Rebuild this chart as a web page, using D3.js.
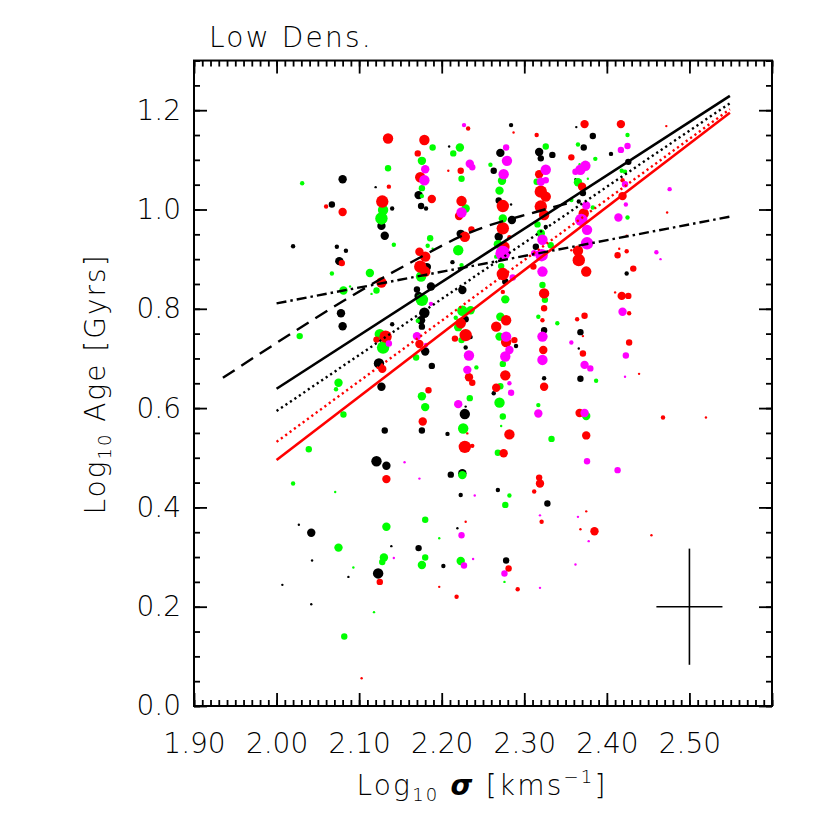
<!DOCTYPE html>
<html><head><meta charset="utf-8">
<script src="https://cdn.jsdelivr.net/npm/d3@7"></script>
<style>body{margin:0;background:#fff}</style>
</head><body><svg id="c" width="830" height="830"></svg>
<script>
// ---- tick labels ----
const xMajor=[1.9,2.0,2.1,2.2,2.3,2.4,2.5,2.6];
const xTickLabels=["1.90","2.00","2.10","2.20","2.30","2.40","2.50",""];
const yMajor=[0,0.2,0.4,0.6,0.8,1.0,1.2];
const yTickLabels=["0.0","0.2","0.4","0.6","0.8","1.0","1.2"];

// ---- galaxies: [log sigma, log age, size class] ----
const blackPts=[[2.080,1.061,4],[2.120,1.045,1],[2.067,1.010,3],[2.140,1.002,2],[2.127,0.967,4],[2.131,0.947,4],[2.020,0.926,2],[2.073,0.925,2],[2.084,0.917,2],[2.076,0.896,4],[2.078,0.791,4],[2.080,0.765,4],[2.140,0.769,2],[2.124,0.690,5],[2.127,0.643,4],
[2.172,1.029,4],[2.175,1.007,3],[2.181,1.002,2],[2.182,0.884,4],[2.187,0.845,4],[2.170,0.839,3],[2.172,0.826,4],[2.179,0.792,5],[2.175,0.777,4],[2.176,0.764,3],[2.180,0.714,4],[2.188,0.685,3],
[2.209,1.127,1],[2.223,0.951,4],[2.213,0.894,2],[2.225,0.838,4],[2.229,0.779,3],[2.235,0.743,2],[2.229,0.722,2],
[2.284,1.170,2],[2.271,1.114,4],[2.263,1.078,3],[2.269,1.018,3],[2.284,1.010,1],[2.285,0.979,4],[2.269,0.945,4],[2.277,0.855,3],[2.290,0.725,2],[2.263,0.630,2],
[2.318,1.116,4],[2.320,1.103,3],[2.326,0.965,2],[2.314,0.925,3],[2.324,0.757,3],[2.324,0.660,2],
[2.334,1.110,3],[2.363,1.166,1],[2.383,1.148,3],[2.372,1.125,3],[2.362,1.061,1],[2.371,1.033,3],[2.366,1.016,2],[2.368,0.753,3],[2.366,0.720,1],[2.368,0.659,3],[2.405,1.112,2],[2.426,1.096,3],[2.424,0.871,2],
[2.131,0.555,3],[2.121,0.493,5],[2.133,0.484,4],[2.027,0.365,1],[2.042,0.349,4],[2.043,0.293,1],[2.087,0.260,1],[2.139,0.322,1],[2.123,0.267,5],[2.007,0.244,1],[2.042,0.205,1],
[2.176,0.555,3],[2.207,0.548,2],[2.229,0.603,1],[2.228,0.588,5],[2.211,0.466,3],[2.225,0.469,4],[2.223,0.425,2],[2.219,0.358,1],[2.172,0.318,3],[2.202,0.282,2],[2.268,0.435,2],[2.278,0.293,3],[2.328,0.408,3]];

const greenPts=[[2.135,1.083,3],[2.031,1.053,2],[2.129,0.999,5],[2.127,0.982,6],[2.142,0.929,2],[2.067,0.871,2],[2.113,0.872,4],[2.089,0.845,1],[2.081,0.837,4],[2.121,0.837,3],[2.115,0.830,1],[2.028,0.745,3],[2.125,0.749,5],[2.129,0.722,6],[2.075,0.651,4],[2.072,0.638,2],
[2.189,1.125,3],[2.176,1.098,4],[2.176,1.043,3],[2.176,1.027,2],[2.186,0.942,3],[2.183,0.927,2],[2.189,0.921,1],[2.175,0.865,5],[2.176,0.818,6],[2.171,0.776,2],[2.169,0.702,3],[2.176,0.624,4],
[2.222,1.125,4],[2.214,1.113,3],[2.224,1.062,3],[2.229,1.002,4],[2.220,0.918,5],[2.224,0.888,2],[2.225,0.796,5],[2.235,0.797,4],[2.217,0.782,2],[2.220,0.763,4],[2.224,0.737,3],[2.242,0.682,2],[2.234,0.620,3],
[2.259,1.090,2],[2.273,1.058,4],[2.270,1.038,4],[2.274,0.982,4],[2.268,0.930,4],[2.266,0.905,2],[2.272,0.886,3],[2.277,0.819,4],[2.271,0.784,4],[2.270,0.744,4],[2.274,0.689,3],[2.271,0.644,3],
[2.326,1.127,3],[2.315,1.056,3],[2.316,0.970,3],[2.320,0.952,4],[2.322,0.848,3],[2.325,0.818,3],[2.317,0.784,2],
[2.332,0.928,3],[2.340,0.771,2],[2.365,1.131,2],[2.386,1.102,2],[2.367,1.091,1],[2.365,1.055,4],[2.377,1.062,1],[2.357,1.019,2],[2.383,1.004,2],[2.387,0.655,2],[2.425,1.150,2],[2.418,1.078,2],[2.422,1.076,2],[2.425,0.984,2],
[2.081,0.587,3],[2.039,0.517,3],[2.020,0.448,2],[2.071,0.431,1],[2.075,0.319,4],[2.093,0.279,1],[2.133,0.361,4],[2.130,0.299,4],[2.128,0.290,3],[2.118,0.189,1],[2.082,0.140,3],
[2.180,0.602,4],[2.226,0.559,5],[2.225,0.465,4],[2.180,0.375,3],[2.197,0.338,1],[2.180,0.299,3],[2.176,0.284,4],[2.223,0.292,4],[2.270,0.611,5],[2.274,0.583,3],[2.272,0.564,1],[2.268,0.510,3],[2.282,0.424,2],[2.277,0.405,3],[2.276,0.250,1],[2.317,0.606,2],
[2.375,0.584,4],[2.333,0.538,3]];

const redPts=[[2.135,1.143,5],[2.136,1.046,2],[2.060,1.006,2],[2.128,1.016,6],[2.080,0.995,4],[2.079,0.892,3],[2.127,0.853,5],[2.132,0.744,6],[2.121,0.738,3],[2.128,0.679,4],
[2.179,1.140,5],[2.171,1.113,3],[2.174,1.065,5],[2.188,1.021,4],[2.173,0.915,4],[2.180,0.905,5],[2.174,0.885,6],[2.180,0.875,5],[2.173,0.729,4],[2.184,0.636,3],
[2.232,1.163,2],[2.208,1.078,1],[2.223,1.078,3],[2.224,1.017,5],[2.221,0.987,4],[2.236,0.960,3],[2.228,0.945,5],[2.223,0.771,5],[2.229,0.747,6],[2.216,0.740,3],[2.233,0.662,4],[2.237,0.651,3],
[2.287,1.155,1],[2.274,1.007,6],[2.274,0.962,6],[2.282,0.944,2],[2.276,0.925,5],[2.274,0.870,6],[2.274,0.834,2],[2.278,0.777,5],[2.266,0.764,5],[2.278,0.733,5],[2.288,0.737,3],[2.277,0.666,5],[2.266,0.641,4],
[2.315,1.150,2],[2.318,1.071,4],[2.320,1.036,6],[2.326,1.026,5],[2.320,1.006,6],[2.324,0.989,5],[2.311,0.885,3],[2.324,0.831,5],[2.324,0.801,3],[2.322,0.777,2],[2.323,0.717,4],[2.324,0.643,4],
[2.373,1.172,4],[2.357,1.105,3],[2.370,1.046,4],[2.372,0.992,5],[2.365,0.917,5],[2.366,0.898,6],[2.375,0.875,5],[2.357,0.918,1],[2.364,0.779,2],[2.373,0.786,3],[2.371,0.745,1],[2.371,0.710,3],
[2.417,1.172,4],[2.419,1.059,2],[2.419,1.027,4],[2.424,0.947,1],[2.415,0.921,1],[2.424,0.916,2],[2.413,0.908,3],[2.432,0.881,3],[2.410,0.833,1],[2.418,0.826,4],[2.426,0.826,3],[2.427,0.791,2],[2.427,0.732,3],[2.439,0.669,1],[2.472,1.168,1],[2.473,0.994,1],
[2.133,0.457,4],[2.125,0.250,3],[2.103,0.056,1],
[2.177,0.573,4],[2.231,0.549,1],[2.228,0.522,6],[2.237,0.524,2],[2.229,0.371,1],[2.197,0.240,1],[2.218,0.220,2],[2.282,0.547,5],[2.275,0.509,4],[2.281,0.277,3],[2.292,0.235,2],[2.318,0.460,3],[2.319,0.448,4],[2.312,0.432,2],[2.321,0.371,2],
[2.367,0.590,4],[2.375,0.545,4],[2.375,0.392,1],[2.368,0.356,1],[2.385,0.352,4],[2.468,0.581,2],[2.520,0.581,1],[2.454,0.344,1]];

const magentaPts=[[2.136,0.730,3],
[2.180,1.081,4],[2.179,1.059,5],[2.187,0.810,2],[2.170,0.745,4],[2.181,0.727,2],
[2.227,1.170,2],[2.234,1.092,4],[2.237,1.085,3],[2.224,0.994,5],[2.233,0.706,5],[2.231,0.677,4],
[2.278,1.125,3],[2.279,1.098,5],[2.275,1.071,5],[2.274,0.912,7],[2.286,0.863,3],[2.278,0.744,5],[2.282,0.717,4],[2.277,0.704,5],[2.282,0.650,2],[2.284,0.631,3],
[2.326,1.080,5],[2.320,1.056,4],[2.326,1.059,3],[2.322,0.939,5],[2.321,0.908,6],[2.312,0.912,3],[2.322,0.875,5],[2.322,0.744,5],[2.322,0.697,5],
[2.374,1.088,5],[2.368,1.080,5],[2.362,1.076,3],[2.375,1.008,4],[2.369,0.979,6],[2.376,0.959,5],[2.376,0.932,6],[2.357,0.732,2],[2.373,0.687,4],[2.380,0.680,3],
[2.417,1.120,3],[2.425,1.128,3],[2.422,1.051,3],[2.423,1.010,2],[2.414,0.984,4],[2.419,0.794,4],[2.423,0.706,3],[2.422,0.663,1],[2.476,1.041,2],[2.460,0.914,2],[2.465,0.900,1],
[2.155,0.491,1],[2.142,0.298,1],
[2.220,0.608,4],[2.173,0.458,1],[2.240,0.424,1],[2.224,0.344,3],[2.227,0.283,3],[2.238,0.296,1],[2.276,0.267,3],[2.317,0.589,4],[2.319,0.384,1],[2.319,0.238,1],
[2.373,0.590,4],[2.376,0.493,3],[2.413,0.475,3],[2.365,0.381,1],[2.378,0.332,1],[2.362,0.285,1]];

// ---- fitted relations ----
const fitSolidBlack=[[2.000,0.639],[2.549,1.229]];
const fitDotBlack=[[2.000,0.594],[2.549,1.214]];
const fitDotRed=[[2.000,0.532],[2.549,1.202]];
const fitSolidRed=[[2.000,0.4955],[2.549,1.195]];
const fitDashBlack=[[1.935,0.661],[2.161,0.892],[2.233,0.953],[2.314,0.995],[2.358,1.015]];
const fitDashDot=[[2.000,0.811],[2.549,0.9855]];
const errCross={x:2.50,y:0.20,ex:0.04,ey:0.117};

// ---- drawing ----
const FONT='"DejaVu Sans", sans-serif';
const svg=d3.select("#c");
const x=d3.scaleLinear().domain([1.9,2.6]).range([194,772]);
const y=d3.scaleLinear().domain([0,1.3]).range([706,60.55]);
const r=d3.scaleLinear().domain([1,2,3,4,5,6,7]).range([1.2,2.2,3.2,4.2,5.2,6.2,7.4]);

const groups=[{pts:blackPts,c:"#000000"},{pts:greenPts,c:"#00ff00"},{pts:redPts,c:"#ff0000"},{pts:magentaPts,c:"#ff00ff"}];
groups.forEach(gp=>{
  svg.append("g").selectAll("circle").data(gp.pts).join("circle")
    .attr("cx",d=>x(d[0])).attr("cy",d=>y(d[1])).attr("r",d=>r(d[2])).attr("fill",gp.c);
});

const line=d3.line().x(d=>x(d[0])).y(d=>y(d[1]));
const lineC=d3.line().x(d=>x(d[0])).y(d=>y(d[1])).curve(d3.curveMonotoneX);
const lines=[
 {d:fitSolidBlack,c:"#000",w:2.6,da:null,f:line},
 {d:fitDotBlack,c:"#000",w:2.4,da:"2.2,3.2",f:line},
 {d:fitDotRed,c:"#ff0000",w:2.4,da:"2.2,3.2",f:line},
 {d:fitSolidRed,c:"#ff0000",w:2.6,da:null,f:line},
 {d:fitDashBlack,c:"#000",w:2.4,da:"14,8",f:lineC},
 {d:fitDashDot,c:"#000",w:2.4,da:"10,4,2.5,4",f:line}
];
lines.forEach(l=>{
  svg.append("path").attr("d",l.f(l.d)).attr("fill","none").attr("stroke",l.c)
    .attr("stroke-width",l.w).attr("stroke-dasharray",l.da);
});

// error cross
svg.append("line").attr("x1",x(errCross.x-errCross.ex)).attr("x2",x(errCross.x+errCross.ex))
  .attr("y1",y(errCross.y)).attr("y2",y(errCross.y)).attr("stroke","#000").attr("stroke-width",1.6);
svg.append("line").attr("x1",x(errCross.x)).attr("x2",x(errCross.x))
  .attr("y1",y(errCross.y-errCross.ey)).attr("y2",y(errCross.y+errCross.ey)).attr("stroke","#000").attr("stroke-width",1.6);

// axes
const xMinor=d3.range(190,261).map(v=>v/100);
const yMinor=d3.range(0,27).map(v=>v*0.05);
function st(g){
  g.select(".domain").remove();
  g.selectAll(".tick line").attr("stroke","#000").attr("stroke-width",1.8);
  g.selectAll("text").attr("font-family",FONT).attr("font-size",28).attr("fill","#000").attr("font-weight",300);
}
const bY=y(0), tY=y(1.3), lX=x(1.9), rX=x(2.6);
svg.append("g").attr("transform",`translate(0,${bY})`).call(d3.axisBottom(x).tickValues(xMinor).tickSize(-6).tickFormat("")).call(st);
svg.append("g").attr("transform",`translate(0,${bY})`).call(d3.axisBottom(x).tickValues(xMajor).tickSize(-13).tickPadding(27).tickFormat((d,i)=>xTickLabels[i])).call(st);
svg.append("g").attr("transform",`translate(0,${tY})`).call(d3.axisTop(x).tickValues(xMinor).tickSize(-6).tickFormat("")).call(st);
svg.append("g").attr("transform",`translate(0,${tY})`).call(d3.axisTop(x).tickValues(xMajor).tickSize(-13).tickFormat("")).call(st);
svg.append("g").attr("transform",`translate(${lX},0)`).call(d3.axisLeft(y).tickValues(yMinor).tickSize(-6).tickFormat("")).call(st);
svg.append("g").attr("transform",`translate(${lX},0)`).call(d3.axisLeft(y).tickValues(yMajor).tickSize(-13).tickPadding(13).tickFormat((d,i)=>yTickLabels[i])).call(st);
svg.append("g").attr("transform",`translate(${rX},0)`).call(d3.axisRight(y).tickValues(yMinor).tickSize(-6).tickFormat("")).call(st);
svg.append("g").attr("transform",`translate(${rX},0)`).call(d3.axisRight(y).tickValues(yMajor).tickSize(-13).tickFormat("")).call(st);
svg.append("rect").attr("x",lX).attr("y",tY).attr("width",rX-lX).attr("height",bY-tY)
  .attr("fill","none").attr("stroke","#000").attr("stroke-width",2);

// title and axis labels
svg.append("text").attr("x",209).attr("y",47).attr("font-family",FONT).attr("font-weight",300)
  .attr("font-size",28).attr("letter-spacing",2.2).text("Low Dens.");

const xl=svg.append("text").attr("x",482).attr("y",795).attr("text-anchor","middle")
  .attr("font-family",FONT).attr("font-weight",300).attr("font-size",28).attr("letter-spacing",2.2);
xl.append("tspan").text("Log");
xl.append("tspan").attr("font-size",18).attr("dy",6).text("10");
xl.append("tspan").attr("dy",-6).text(" ");
xl.append("tspan").attr("font-style","italic").attr("font-weight","bold").text("σ");
xl.append("tspan").text(" [kms");
xl.append("tspan").attr("font-size",18).attr("dy",-12).text("−1");
xl.append("tspan").attr("dy",12).text("]");

const yl=svg.append("text").attr("transform","translate(105,384) rotate(-90)").attr("text-anchor","middle")
  .attr("font-family",FONT).attr("font-weight",300).attr("font-size",28).attr("letter-spacing",2);
yl.append("tspan").text("Log");
yl.append("tspan").attr("font-size",18).attr("dy",6).text("10");
yl.append("tspan").attr("dy",-6).text(" Age [Gyrs]");
</script></body></html>
